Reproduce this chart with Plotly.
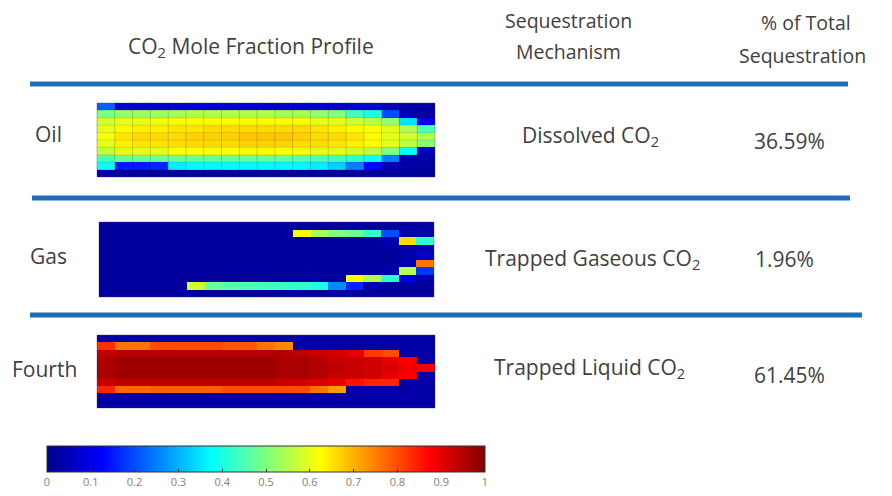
import plotly.graph_objects as go

# page window is 892x496, the html body adds an 8px margin
WIN_W, WIN_H, OFF = 892, 496, 8
W, H = WIN_W - OFF, WIN_H - OFF

# ---------------- data (rows top -> bottom, 19 grid columns) ----------------
oil_z = [
    [0.22, 0.08, 0.08, 0.08, 0.08, 0.08, 0.08, 0.08, 0.08, 0.08, 0.08, 0.08, 0.08, 0.08, 0.08, 0.07, 0.05, 0.03, 0.03],
    [0.50, 0.52, 0.53, 0.53, 0.54, 0.55, 0.55, 0.55, 0.55, 0.55, 0.54, 0.54, 0.52, 0.50, 0.44, 0.40, 0.20, 0.05, 0.03],
    [0.58, 0.60, 0.60, 0.61, 0.62, 0.62, 0.62, 0.62, 0.62, 0.62, 0.62, 0.62, 0.60, 0.60, 0.58, 0.56, 0.52, 0.35, 0.10],
    [0.60, 0.63, 0.64, 0.64, 0.65, 0.65, 0.66, 0.66, 0.66, 0.66, 0.66, 0.66, 0.65, 0.64, 0.63, 0.62, 0.60, 0.55, 0.45],
    [0.62, 0.65, 0.66, 0.66, 0.66, 0.67, 0.67, 0.67, 0.68, 0.68, 0.68, 0.67, 0.66, 0.66, 0.65, 0.63, 0.60, 0.58, 0.55],
    [0.60, 0.64, 0.65, 0.65, 0.66, 0.66, 0.66, 0.66, 0.67, 0.67, 0.67, 0.66, 0.66, 0.65, 0.64, 0.62, 0.60, 0.56, 0.50],
    [0.56, 0.60, 0.60, 0.60, 0.62, 0.62, 0.62, 0.62, 0.63, 0.63, 0.62, 0.62, 0.60, 0.60, 0.58, 0.56, 0.50, 0.38, 0.06],
    [0.45, 0.48, 0.48, 0.48, 0.48, 0.48, 0.48, 0.48, 0.48, 0.48, 0.47, 0.46, 0.45, 0.44, 0.42, 0.38, 0.25, 0.05, 0.03],
    [0.38, 0.15, 0.15, 0.16, 0.36, 0.37, 0.37, 0.37, 0.37, 0.37, 0.37, 0.37, 0.36, 0.33, 0.25, 0.13, 0.05, 0.03, 0.03],
    [0.03, 0.02, 0.02, 0.02, 0.02, 0.02, 0.02, 0.02, 0.02, 0.02, 0.02, 0.02, 0.02, 0.02, 0.02, 0.02, 0.02, 0.02, 0.02],
]

gas_z = [
    [0.02, 0.02, 0.02, 0.02, 0.02, 0.02, 0.02, 0.02, 0.02, 0.02, 0.02, 0.02, 0.02, 0.02, 0.02, 0.02, 0.02, 0.02, 0.02],
    [0.02, 0.02, 0.02, 0.02, 0.02, 0.02, 0.02, 0.02, 0.02, 0.02, 0.02, 0.62, 0.54, 0.50, 0.48, 0.42, 0.20, 0.04, 0.04],
    [0.02, 0.02, 0.02, 0.02, 0.02, 0.02, 0.02, 0.02, 0.02, 0.02, 0.02, 0.02, 0.02, 0.02, 0.02, 0.02, 0.04, 0.66, 0.42],
    [0.02, 0.02, 0.02, 0.02, 0.02, 0.02, 0.02, 0.02, 0.02, 0.02, 0.02, 0.02, 0.02, 0.02, 0.02, 0.02, 0.02, 0.03, 0.04],
    [0.02, 0.02, 0.02, 0.02, 0.02, 0.02, 0.02, 0.02, 0.02, 0.02, 0.02, 0.02, 0.02, 0.02, 0.02, 0.02, 0.02, 0.03, 0.06],
    [0.02, 0.02, 0.02, 0.02, 0.02, 0.02, 0.02, 0.02, 0.02, 0.02, 0.02, 0.02, 0.02, 0.02, 0.02, 0.02, 0.02, 0.04, 0.76],
    [0.02, 0.02, 0.02, 0.02, 0.02, 0.02, 0.02, 0.02, 0.02, 0.02, 0.02, 0.02, 0.02, 0.02, 0.02, 0.02, 0.04, 0.55, 0.18],
    [0.02, 0.02, 0.02, 0.02, 0.02, 0.02, 0.02, 0.02, 0.02, 0.02, 0.02, 0.02, 0.02, 0.02, 0.62, 0.55, 0.42, 0.10, 0.03],
    [0.02, 0.02, 0.02, 0.02, 0.02, 0.58, 0.48, 0.46, 0.45, 0.44, 0.43, 0.42, 0.40, 0.26, 0.16, 0.04, 0.02, 0.02, 0.02],
    [0.02, 0.02, 0.02, 0.02, 0.02, 0.02, 0.02, 0.02, 0.02, 0.02, 0.02, 0.02, 0.02, 0.02, 0.02, 0.02, 0.02, 0.02, 0.02],
]

fourth_z = [
    [0.03, 0.03, 0.03, 0.03, 0.03, 0.03, 0.03, 0.03, 0.03, 0.03, 0.03, 0.03, 0.03, 0.03, 0.03, 0.03, 0.03, 0.03, 0.03],
    [0.83, 0.76, 0.76, 0.80, 0.80, 0.80, 0.80, 0.79, 0.79, 0.76, 0.74, 0.03, 0.03, 0.03, 0.03, 0.03, 0.03, 0.03, 0.03],
    [0.94, 0.95, 0.95, 0.95, 0.95, 0.95, 0.95, 0.95, 0.95, 0.95, 0.95, 0.94, 0.93, 0.92, 0.90, 0.82, 0.80, 0.03, 0.03],
    [0.96, 0.97, 0.97, 0.97, 0.97, 0.97, 0.97, 0.97, 0.97, 0.97, 0.96, 0.96, 0.95, 0.93, 0.93, 0.92, 0.90, 0.88, 0.03],
    [0.96, 0.97, 0.97, 0.97, 0.97, 0.97, 0.97, 0.97, 0.97, 0.97, 0.96, 0.96, 0.95, 0.94, 0.93, 0.92, 0.91, 0.89, 0.88],
    [0.96, 0.97, 0.97, 0.97, 0.97, 0.97, 0.97, 0.97, 0.97, 0.97, 0.96, 0.96, 0.95, 0.93, 0.93, 0.92, 0.90, 0.88, 0.03],
    [0.93, 0.94, 0.94, 0.94, 0.94, 0.94, 0.94, 0.94, 0.94, 0.94, 0.93, 0.92, 0.91, 0.90, 0.86, 0.84, 0.84, 0.03, 0.03],
    [0.84, 0.77, 0.77, 0.78, 0.78, 0.78, 0.78, 0.80, 0.80, 0.80, 0.80, 0.80, 0.76, 0.72, 0.03, 0.03, 0.03, 0.03, 0.03],
    [0.03, 0.03, 0.03, 0.03, 0.03, 0.03, 0.03, 0.03, 0.03, 0.03, 0.03, 0.03, 0.03, 0.03, 0.03, 0.03, 0.03, 0.03, 0.03],
    [0.03, 0.03, 0.03, 0.03, 0.03, 0.03, 0.03, 0.03, 0.03, 0.03, 0.03, 0.03, 0.03, 0.03, 0.03, 0.03, 0.03, 0.03, 0.03],
]

row_labels = ["Oil", "Gas", "Fourth"]
mechanisms = ["Dissolved CO<sub>2</sub>", "Trapped Gaseous CO<sub>2</sub>", "Trapped Liquid CO<sub>2</sub>"]
percents = ["36.59%", "1.96%", "61.45%"]
cbar_ticks = [0, 0.1, 0.2, 0.3, 0.4, 0.5, 0.6, 0.7, 0.8, 0.9, 1]
cbar_ticktext = ["0", "0.1", "0.2", "0.3", "0.4", "0.5", "0.6", "0.7", "0.8", "0.9", "1"]

# ---------------- helpers (window pixel -> paper fraction) ----------------
def px(x):
    return (x - OFF) / W

def py(y):
    return 1 - (y - OFF) / H

jet = [[0.0, "#00008A"], [0.125, "#0000FF"], [0.375, "#00FFFF"],
       [0.625, "#FFFF00"], [0.875, "#FF0000"], [1.0, "#800000"]]

FONT = "Open Sans"
TXT = "#404040"

fig = go.Figure()

boxes = [  # (x0, x1, ytop, ybottom) window-pixel boxes of the three profiles
    (97, 435, 103, 177),
    (99, 434, 222, 297),
    (97, 435, 335, 408),
]
grids = [oil_z, gas_z, fourth_z]

for i, (z, box) in enumerate(zip(grids, boxes)):
    sfx = "" if i == 0 else str(i + 1)
    show = (i == 2)
    tr = go.Heatmap(
        z=z, colorscale=jet, zmin=0, zmax=1, showscale=show,
        xaxis="x" + sfx, yaxis="y" + sfx, hoverinfo="skip",
    )
    if show:
        tr.colorbar = dict(
            orientation="h", x=px(47), xanchor="left", y=py(446), yanchor="top",
            len=438, lenmode="pixels", thickness=26, thicknessmode="pixels",
            outlinewidth=1, outlinecolor="#333333", xpad=0, ypad=0,
            tickvals=cbar_ticks, ticktext=cbar_ticktext, ticks="inside",
            ticklen=3, tickcolor="#333333",
            tickfont=dict(family=FONT, size=11, color="#808080"),
        )
    fig.add_trace(tr)
    x0, x1, yt, yb = box
    fig.layout["xaxis" + sfx] = dict(domain=[px(x0), px(x1)], visible=False,
                                     range=[-0.5, len(z[0]) - 0.5], fixedrange=True,
                                     anchor="y" + sfx)
    fig.layout["yaxis" + sfx] = dict(domain=[py(yb), py(yt)], visible=False,
                                     range=[len(z) - 0.5, -0.5], fixedrange=True,
                                     anchor="x" + sfx)

# cell edges on the oil profile
shapes = []
nrow, ncol = len(oil_z), len(oil_z[0])
for k in range(1, ncol):
    shapes.append(dict(type="line", xref="x", yref="y", x0=k - 0.5, x1=k - 0.5,
                       y0=-0.5, y1=nrow - 0.5, line=dict(color="rgba(0,0,0,0.18)", width=1)))
for k in range(1, nrow):
    shapes.append(dict(type="line", xref="x", yref="y", x0=-0.5, x1=ncol - 0.5,
                       y0=k - 0.5, y1=k - 0.5, line=dict(color="rgba(0,0,0,0.12)", width=1)))
# outlines of the profiles
for box in boxes:
    x0, x1, yt, yb = box
    shapes.append(dict(type="rect", xref="paper", yref="paper", x0=px(x0), x1=px(x1),
                       y0=py(yb), y1=py(yt), line=dict(color="rgba(60,60,60,0.35)", width=1)))

# separator bars
for (xa, xb, yy) in [(30, 848, 84), (32, 850, 198), (30, 862, 315)]:
    shapes.append(dict(type="line", xref="paper", yref="paper", x0=px(xa), x1=px(xb),
                       y0=py(yy), y1=py(yy), line=dict(color="#1F6DB4", width=5)))

ann = []

def text(t, x, y, size=21, xanchor="center"):
    ann.append(dict(text=t, x=px(x), y=py(y), xref="paper", yref="paper",
                    xanchor=xanchor, yanchor="middle", showarrow=False,
                    font=dict(family=FONT, size=size, color=TXT)))

text("CO<sub>2</sub> Mole Fraction Profile", 251, 47, size=21)
text("Sequestration", 568, 20, size=19.5)
text("Mechanism", 568, 51, size=19.5)
text("% of Total", 806, 23, size=19.5)
text("Sequestration", 802, 55, size=19.5)

for lab, x, y in zip(row_labels, [48, 48, 44], [134, 256, 369]):
    text(lab, x, y, size=21)
for m, x, y in zip(mechanisms, [590, 592, 589], [136, 259, 368]):
    text(m, x, y, size=21)
for p, x, y in zip(percents, [789, 784, 789], [141, 259, 375]):
    text(p, x, y, size=21)

fig.update_layout(
    width=W, height=H, margin=dict(l=0, r=0, t=0, b=0),
    paper_bgcolor="white", plot_bgcolor="white",
    shapes=shapes, annotations=ann, showlegend=False,
)

fig.write_html("out.html")
